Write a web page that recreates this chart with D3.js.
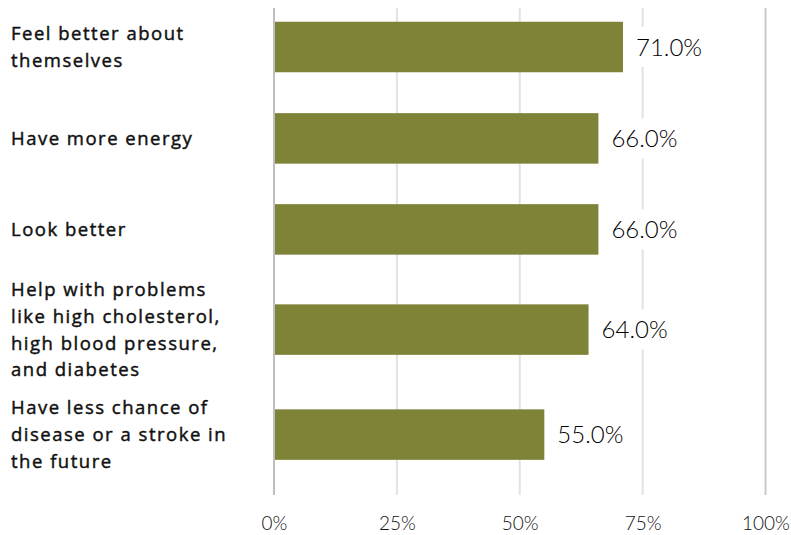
<!DOCTYPE html>
<html><head><meta charset="utf-8">
<script src="https://cdn.jsdelivr.net/npm/d3@7"></script>
<style>
html,body{margin:0;padding:0;background:#fff;}
svg{display:block;}
</style></head>
<body>
<svg id="chart" width="791" height="535"></svg>
<script>
// ---- data ----
const categories = [
  ["Feel better about", "themselves"],
  ["Have more energy"],
  ["Look better"],
  ["Help with problems", "like high cholesterol,", "high blood pressure,", "and diabetes"],
  ["Have less chance of", "disease or a stroke in", "the future"]
];
const values = [71.0, 66.0, 66.0, 64.0, 55.0];
const tickValues = [0, 25, 50, 75, 100];
const tickLabels = ["0%", "25%", "50%", "75%", "100%"];

// ---- layout ----
const x0 = 274, x1 = 765.5;
const gridTop = 8, gridBottom = 495;
const lineH = 26.8;
const barH = 50.5;
const firstCenter = 47;
const barColor = "#7f8337";

const svg = d3.select("#chart");
const x = d3.scaleLinear().domain([0, 100]).range([x0, x1]);

// row heights grow with wrapped label lines
const rowH = categories.map(l => Math.max(91, 74.2 + 8.8 * l.length));
const keys = categories.map((c, i) => i);
const centers = [];
let acc = firstCenter;
rowH.forEach((h, i) => {
  if (i > 0) acc += (rowH[i - 1] + h) / 2;
  centers.push(acc);
});
const y = d3.scaleOrdinal().domain(keys).range(centers);

// gridlines
svg.append("g").selectAll("line").data(tickValues).join("line")
  .attr("x1", d => x(d)).attr("x2", d => x(d))
  .attr("y1", gridTop).attr("y2", gridBottom)
  .attr("stroke", d => d === 0 ? "#bfbfbf" : (d === 100 ? "#cacaca" : "#e2e2e2"))
  .attr("stroke-width", 2);

// tick labels
const xAxis = d3.axisBottom(x).tickValues(tickValues)
  .tickFormat((d, i) => tickLabels[i]).tickSize(0).tickPadding(0);
const axG = svg.append("g").attr("transform", `translate(0,${gridBottom + 29})`).call(xAxis);
axG.select(".domain").remove();
axG.selectAll("text")
  .attr("dy", "0.32em")
  .attr("fill", "#111")
  .style("font-family", "Lato, sans-serif")
  .style("font-weight", 300)
  .style("font-size", "19px");

// bars
svg.append("g").selectAll("rect").data(values).join("rect")
  .attr("x", x(0) + 1)
  .attr("y", (d, i) => y(i) - barH / 2)
  .attr("width", d => x(d) - x(0) - 1)
  .attr("height", barH)
  .attr("fill", barColor);

// value labels with white background
const vl = svg.append("g").selectAll("g").data(values).join("g")
  .attr("transform", (d, i) => `translate(${x(d) + 13},${y(i)})`);
vl.append("rect").attr("class", "bg");
vl.append("text")
  .attr("dy", "0.36em")
  .attr("fill", "#000")
  .style("font-family", "Lato, sans-serif")
  .style("font-weight", 300)
  .style("font-size", "24px")
  .text(d => d.toFixed(1) + "%");
vl.each(function () {
  const t = d3.select(this).select("text").node().getBBox();
  d3.select(this).select("rect.bg")
    .attr("x", -4).attr("y", -20).attr("width", t.width + 8).attr("height", 40)
    .attr("fill", "#fff");
});

// category labels
svg.append("g").selectAll("text").data(categories).join("text")
  .attr("x", 11)
  .attr("y", (d, i) => y(i) - (d.length - 1) * lineH / 2)
  .attr("fill", "#111")
  .attr("stroke", "#111")
  .attr("stroke-width", 0.45)
  .style("font-family", "'Open Sans', sans-serif")
  .style("font-weight", 400)
  .style("font-size", "18.5px")
  .style("letter-spacing", "1.5px")
  .each(function (d) {
    d3.select(this).selectAll("tspan").data(d).join("tspan")
      .attr("x", 11)
      .attr("dy", (t, j) => j === 0 ? "0.36em" : lineH)
      .text(t => t);
  });
</script>
</body></html>
